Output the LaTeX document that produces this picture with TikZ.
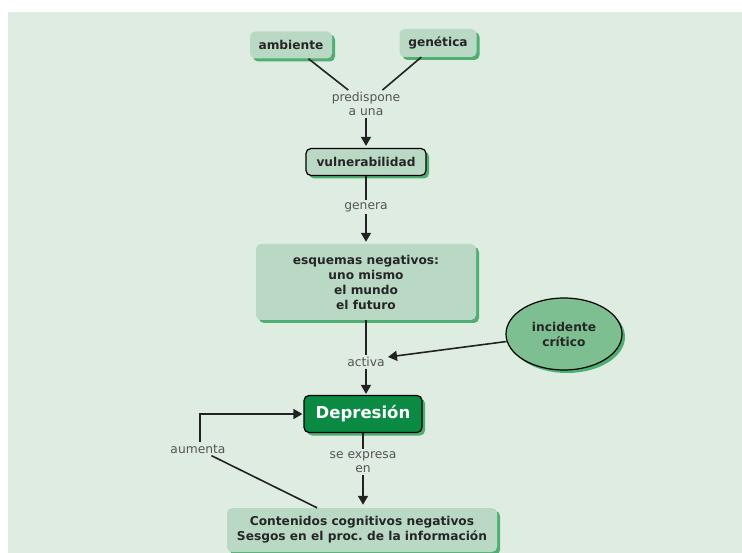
\documentclass[tikz,border=0pt]{standalone}
\usepackage{fontspec}
\setmainfont{DejaVu Sans}
\usetikzlibrary{arrows.meta,shadows,calc,shapes.geometric}
\definecolor{bgc}{HTML}{DFECE2}
\definecolor{boxc}{HTML}{B9D9C4}
\definecolor{shc}{HTML}{4FAE72}
\definecolor{depc}{HTML}{0B8A44}
\definecolor{ellc}{HTML}{7DBF90}
\definecolor{labc}{HTML}{555555}
\definecolor{linec}{HTML}{222222}
\frenchspacing
\begin{document}
\begin{tikzpicture}[x=1pt,y=-1pt,
  shd/.style={general shadow={shadow xshift=3pt,shadow yshift=-3pt,fill=shc}},
  cbox/.style={shd,fill=boxc,rounded corners=5pt,font=\bfseries\fontsize{12.2}{15}\selectfont,text=black!85,align=center,inner sep=2pt},
  bbox/.style={cbox,draw=black,line width=1.2pt},
  lab/.style={font=\fontsize{12.3}{14}\selectfont,text=labc,align=center,inner sep=2pt},
  ln/.style={draw=linec,line width=1.6pt},
  arr/.style={ln,-{Triangle[length=9pt,width=10pt]}}
]
\useasboundingbox (0,0) rectangle (742,553);
\fill[white] (0,0) rectangle (742,553);
\fill[bgc] (8,12) rectangle (742,553);

\node[cbox,minimum width=82pt,minimum height=27pt] (amb) at (291,45) {ambiente};
\node[cbox,minimum width=77pt,minimum height=28pt] (gen) at (438,43) {genética};
\node[lab] (pred) at (366,104) {predispone\\a una};
\node[bbox,minimum width=120pt,minimum height=27pt] (vul) at (366,162) {vulnerabilidad};
\node[lab] (genera) at (366,207) {genera};
\node[cbox,minimum width=220pt,minimum height=76pt] (esq) at (366,282) {esquemas negativos:\\uno mismo\\el mundo\\el futuro};
\node[lab] (act) at (366,362) {activa};
\node[ellipse,shd,fill=ellc,draw=black,line width=1.2pt,minimum width=116pt,minimum height=72pt,
  font=\bfseries\fontsize{12.2}{15}\selectfont,text=black!85,align=center,inner sep=0pt] (inc) at (564,334) {incidente\\crítico};
\node[bbox,fill=depc,text=white,font=\bfseries\fontsize{16.5}{18}\selectfont,minimum width=118pt,minimum height=37pt] (dep) at (363,414) {Depresión};
\node[lab] (aum) at (198,449) {aumenta};
\node[lab] (sexp) at (363,462) {se expresa\\en};
\node[cbox,minimum width=270pt,minimum height=44pt] (cont) at (362,530) {Contenidos cognitivos negativos\\Sesgos en el proc. de la información};

\coordinate (actin) at (388,357);

\draw[ln] (amb) -- (pred);
\draw[ln] (gen) -- (pred);
\draw[arr,shorten >=2pt] (pred) -- (vul);
\draw[ln] (vul) -- (genera);
\draw[arr,shorten >=2pt] (genera) -- (esq);
\draw[ln] (esq) -- (act);
\draw[arr,shorten >=1pt] (act) -- (act |- dep.north);
\draw[arr] (inc) -- (actin);
\draw[ln] (dep) -- (sexp);
\draw[arr,shorten >=3pt] (sexp) -- (sexp |- cont.north);
\draw[arr,shorten >=1pt] ([xshift=2pt]aum.north) |- (dep.west);
\draw[ln] (cont) -- (aum);
\end{tikzpicture}
\end{document}
